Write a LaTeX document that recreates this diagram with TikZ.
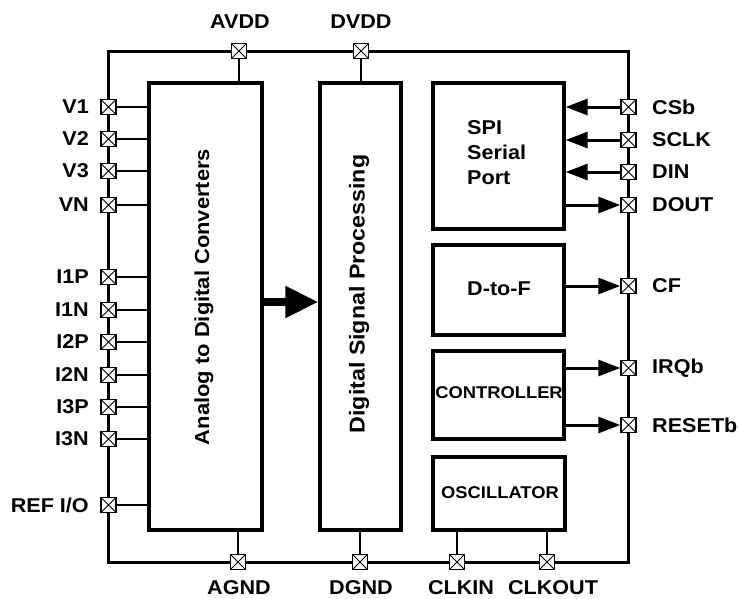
\documentclass[tikz,border=0pt]{standalone}
\usepackage{fontspec}
\setmainfont{Liberation Sans}[FakeStretch=1.08]
\usetikzlibrary{arrows.meta}
\begin{document}
\begin{tikzpicture}[x=1pt,y=-1pt,
  lbl/.style={font=\fontsize{20}{22}\selectfont\bfseries, inner sep=0pt},
  small/.style={font=\fontsize{17}{20}\selectfont\bfseries, inner sep=0pt},
  rot/.style={font=\fontsize{21.5}{23}\selectfont\bfseries, rotate=90, inner sep=0pt},
  blk/.style={draw, line width=3.3pt, inner sep=0pt},
  pinsq/.style={draw, fill=white, line width=1.5pt, minimum size=15pt, inner sep=0pt,
    path picture={\draw[line width=1pt] (path picture bounding box.south west) -- (path picture bounding box.north east)
      (path picture bounding box.north west) -- (path picture bounding box.south east);}},
  wire/.style={line width=1.5pt},
  sig/.style={line width=3pt, -{Triangle[length=22pt,width=16pt]}},
]
\useasboundingbox (0,0) rectangle (739,598);
% outer border
\draw[line width=3pt] (108.5,51) rectangle (628.5,562);

% blocks
\node[blk, minimum width=113pt, minimum height=447pt] (adc) at (205.5,306.5) {};
\node[blk, minimum width=81pt, minimum height=447pt] (dsp) at (360.5,306.5) {};
\node[blk, minimum width=131pt, minimum height=146pt] (spi) at (498.5,156) {};
\node[blk, minimum width=131pt, minimum height=90pt] (dtof) at (498.5,290) {};
\node[blk, minimum width=131pt, minimum height=88pt] (ctrl) at (498.5,395) {};
\node[blk, minimum width=132pt, minimum height=73pt] (osc) at (499,493.5) {};

% block texts
\node[rot, font=\fontsize{20.3}{23}\selectfont\bfseries] (tadc) at (204,297) {Analog to Digital Converters};
\node[rot] (tdsp) at (359,294) {Digital Signal Processing};
\node[font=\fontsize{20}{25}\selectfont\bfseries, inner sep=0pt, align=left, anchor=west] (tspi) at (467,153) {SPI\\Serial\\Port};
\node[lbl] (tdtof) at (499,289) {D-to-F};
\node[small] (tctrl) at (499,393) {CONTROLLER};
\node[small] (tosc) at (500,493) {OSCILLATOR};

% big arrow
\coordinate (ay) at (0,302);
\draw[line width=8pt, -{Triangle[length=33pt,width=30pt]}] (adc.east |- ay) -- (dsp.west |- ay);

% left pins
\foreach \n/\t/\y in {V1/V1/107, V2/V2/139, V3/V3/171, VN/VN/205, I1P/I1P/277, I1N/I1N/310, I2P/I2P/342, I2N/I2N/375, I3P/I3P/407, I3N/I3N/439, REF/REF I\slash O/505}{
  \draw[wire] (108.5,\y) -- (adc.west |- 0,\y);
  \node[pinsq] (p\n) at (108.5,\y) {};
  \node[lbl, anchor=east] (l\n) at (89,\y) {\t};
}

% top pins
\node[pinsq] (pAVDD) at (239,51) {};
\node[pinsq] (pDVDD) at (361,51) {};
\draw[wire] (pAVDD.south) -- (pAVDD.south |- adc.north);
\draw[wire] (pDVDD.south) -- (pDVDD.south |- dsp.north);
\node[lbl] (lAVDD) at (240,22) {AVDD};
\node[lbl] (lDVDD) at (361,22) {DVDD};

% bottom pins
\node[pinsq] (pAGND) at (238,562) {};
\node[pinsq] (pDGND) at (360,562) {};
\node[pinsq] (pCLKIN) at (457,562) {};
\node[pinsq] (pCLKOUT) at (547,562) {};
\draw[wire] (pAGND.north) -- (pAGND.north |- adc.south);
\draw[wire] (pDGND.north) -- (pDGND.north |- dsp.south);
\draw[wire] (pCLKIN.north) -- (pCLKIN.north |- osc.south);
\draw[wire] (pCLKOUT.north) -- (pCLKOUT.north |- osc.south);
\node[lbl] (lAGND) at (239,588) {AGND};
\node[lbl] (lDGND) at (361,588) {DGND};
\node[lbl] (lCLKIN) at (461,588) {CLKIN};
\node[lbl] (lCLKOUT) at (553,588) {CLKOUT};

% right pins
\node[pinsq] (pCS) at (628.5,107) {};
\node[pinsq] (pSCLK) at (628.5,140) {};
\node[pinsq] (pDIN) at (628.5,172) {};
\node[pinsq] (pDOUT) at (628.5,205) {};
\node[pinsq] (pCF) at (628.5,286) {};
\node[pinsq] (pIRQ) at (628.5,368) {};
\node[pinsq] (pRST) at (628.5,425) {};
\draw[sig] (pCS.west) -- (pCS.west -| spi.east);
\draw[sig] (pSCLK.west) -- (pSCLK.west -| spi.east);
\draw[sig] (pDIN.west) -- (pDIN.west -| spi.east);
\draw[sig] (pDOUT.west -| spi.east) -- (pDOUT.west);
\draw[sig] (pCF.west -| dtof.east) -- (pCF.west);
\draw[sig] (pIRQ.west -| ctrl.east) -- (pIRQ.west);
\draw[sig] (pRST.west -| ctrl.east) -- (pRST.west);
\node[lbl, anchor=west] (lCS) at (652,107) {CSb};
\node[lbl, anchor=west] (lSCLK) at (652,140) {SCLK};
\node[lbl, anchor=west] (lDIN) at (652,172) {DIN};
\node[lbl, anchor=west] (lDOUT) at (652,205) {DOUT};
\node[lbl, anchor=west] (lCF) at (652,286) {CF};
\node[lbl, anchor=west] (lIRQ) at (652,368) {IRQb};
\node[lbl, anchor=west] (lRST) at (652,425) {RESETb};
\end{tikzpicture}
\end{document}
